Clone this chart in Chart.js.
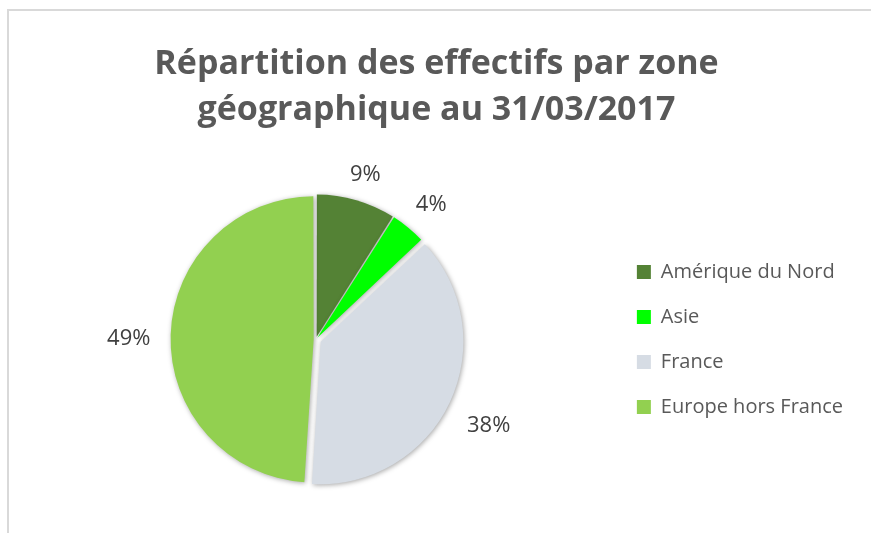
<!DOCTYPE html>
<html>
<head>
<meta charset="utf-8">
<script src="https://cdn.jsdelivr.net/npm/chart.js@4/dist/chart.umd.min.js"></script>
<style>
  html, body { margin: 0; padding: 0; background: #ffffff; }
  #frame {
    position: absolute; left: 7px; top: 9px; width: 862px; height: 522px;
    border-top: 2px solid #d9d9d9; border-left: 2px solid #d9d9d9;
  }
  #wrap { position: relative; width: 862px; height: 522px; }
</style>
</head>
<body>
<div id="frame"><div id="wrap"><canvas id="c"></canvas></div></div>
<script>
const titleLines = ["Répartition des effectifs par zone", "géographique au 31/03/2017"];
const categories = ["Amérique du Nord", "Asie", "France", "Europe hors France"];
const shares = [9, 4, 38, 49];
const sliceColors = ["#548235", "#00ff00", "#d6dce4", "#92d050"];
const sliceOffsets = [11, 9, 21, 9];

const shadowPlugin = {
  id: 'sliceShadow',
  beforeDatasetsDraw(chart) {
    const ctx = chart.ctx;
    ctx.save();
    ctx.shadowColor = 'rgba(0,0,0,0.35)';
    ctx.shadowBlur = 5;
    ctx.shadowOffsetX = 1;
    ctx.shadowOffsetY = 1;
  },
  afterDatasetsDraw(chart) {
    chart.ctx.restore();
  }
};

const labelPlugin = {
  id: 'pctLabels',
  afterDatasetsDraw(chart, args, opts) {
    const ctx = chart.ctx;
    const meta = chart.getDatasetMeta(0);
    const ds = chart.data.datasets[0];
    const total = ds.data.reduce((a, b) => a + b, 0);
    ctx.save();
    ctx.font = opts.font;
    ctx.fillStyle = opts.color;
    ctx.textAlign = 'center';
    ctx.textBaseline = 'middle';
    meta.data.forEach((arc, i) => {
      const p = arc.getProps(['x', 'y', 'startAngle', 'endAngle', 'outerRadius', 'circumference'], true);
      const mid = (p.startAngle + p.endAngle) / 2;
      const off = (ds.offset[i] || 0) / 4;
      const fix = 1 - Math.sin(Math.min(Math.PI, p.circumference || 0));
      const shift = off + off * fix;
      const txt = Math.round(ds.data[i] / total * 100) + '%';
      const w = ctx.measureText(txt).width;
      const h = opts.textHeight;
      const cx = Math.cos(mid), sy = Math.sin(mid);
      const ext = Math.abs(cx) * w / 2 + Math.abs(sy) * h / 2;
      const d = p.outerRadius + shift + opts.gap + ext;
      ctx.fillText(txt, p.x + cx * d, p.y + sy * d + opts.dy);
    });
    ctx.restore();
  }
};

new Chart(document.getElementById('c'), {
  type: 'pie',
  data: {
    labels: categories,
    datasets: [{
      data: shares,
      backgroundColor: sliceColors,
      borderWidth: 0,
      offset: sliceOffsets
    }]
  },
  plugins: [shadowPlugin, labelPlugin],
  options: {
    responsive: true,
    maintainAspectRatio: false,
    animation: false,
    radius: 141,
    layout: { padding: { left: 11, right: 18, top: 0, bottom: 0 } },
    plugins: {
      tooltip: { enabled: false },
      title: {
        display: true,
        text: titleLines,
        color: '#595959',
        font: { family: "'Open Sans', 'Noto Sans', sans-serif", size: 34, weight: 'bold', lineHeight: 1.35 },
        padding: { top: 30, bottom: 13 }
      },
      legend: {
        position: 'right',
        align: 'center',
        fullSize: false,
        labels: {
          boxWidth: 14,
          boxHeight: 14,
          padding: 25,
          color: '#595959',
          font: { family: "'Open Sans', 'Noto Sans', sans-serif", size: 20 }
        }
      },
      pctLabels: {
        font: "22px 'Open Sans', 'Noto Sans', sans-serif",
        color: '#404040',
        gap: 20,
        textHeight: 16,
        dy: 5
      }
    }
  }
});
</script>
</body>
</html>
